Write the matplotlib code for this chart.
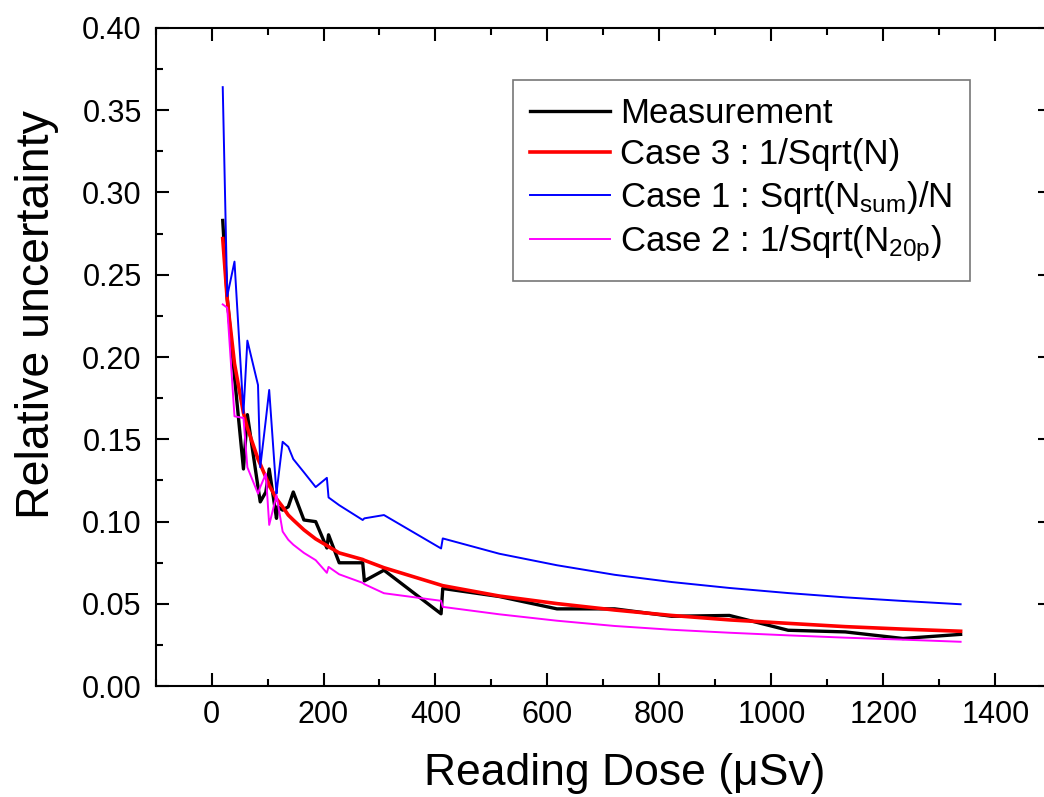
import matplotlib
matplotlib.use("Agg")
import matplotlib.pyplot as plt
from matplotlib.ticker import MultipleLocator, FormatStrFormatter

# === Dati ===
dose = [20, 28, 41, 57, 64, 83, 87, 97, 103, 116, 118, 127, 137, 146, 165, 186,
        206, 209, 228, 270, 273, 308, 410, 413, 514, 617, 720, 822, 925, 1030,
        1132, 1235, 1338]

misura = [0.283, 0.236, 0.188, 0.132, 0.165, 0.121, 0.112, 0.118, 0.132, 0.102,
          0.109, 0.107, 0.109, 0.118, 0.101, 0.100, 0.084, 0.092, 0.075, 0.075,
          0.064, 0.0705, 0.044, 0.0594, 0.0545, 0.047, 0.047, 0.0425, 0.043,
          0.034, 0.033, 0.029, 0.0315]

caso3 = [0.272, 0.235, 0.196, 0.166, 0.157, 0.138, 0.135, 0.127, 0.122, 0.114,
         0.113, 0.109, 0.104, 0.101, 0.095, 0.0895, 0.0855, 0.0848, 0.081, 0.077,
         0.0765, 0.072, 0.0614, 0.0611, 0.0548, 0.0502, 0.0463, 0.0430, 0.0403,
         0.0382, 0.0362, 0.0347, 0.0334]

caso1 = [0.364, 0.237, 0.258, 0.166, 0.210, 0.183, 0.133, 0.162, 0.180, 0.117,
         0.123, 0.1485, 0.1455, 0.138, 0.130, 0.121, 0.1266, 0.1147, 0.110, 0.101,
         0.102, 0.104, 0.0837, 0.0898, 0.0805, 0.0735, 0.0677, 0.0633, 0.0597,
         0.0566, 0.0540, 0.0518, 0.0498]

caso2 = [0.232, 0.230, 0.164, 0.163, 0.133, 0.117, 0.121, 0.129, 0.098, 0.116,
         0.112, 0.094, 0.089, 0.086, 0.081, 0.0766, 0.0689, 0.0725, 0.068, 0.0628,
         0.062, 0.0565, 0.0519, 0.0482, 0.0437, 0.0398, 0.0366, 0.0343, 0.0325,
         0.0309, 0.0295, 0.0283, 0.027]

etichette = ["Measurement",
             "Case 3 : 1/Sqrt(N)",
             r"Case 1 : Sqrt(N$_{\mathrm{sum}}$)/N",
             r"Case 2 : 1/Sqrt(N$_{\mathrm{20p}}$)"]

plt.rcParams["font.family"] = ["Liberation Sans", "DejaVu Sans"]
plt.rcParams["mathtext.fontset"] = "custom"
plt.rcParams["mathtext.rm"] = "Liberation Sans"
plt.rcParams["mathtext.it"] = "Liberation Sans:italic"
plt.rcParams["mathtext.bf"] = "Liberation Sans:bold"

fig = plt.figure(figsize=(10.44, 7.97), dpi=100)
ax = fig.add_axes([0.149, 0.139, 0.858, 0.826])

ax.plot(dose, misura, color="black", linewidth=2.4, label=etichette[0])
ax.plot(dose, caso3, color="red", linewidth=2.6, label=etichette[1])
ax.plot(dose, caso1, color="blue", linewidth=1.4, label=etichette[2])
ax.plot(dose, caso2, color="magenta", linewidth=1.4, label=etichette[3])

ax.set_xlim(-100, 1500)
ax.set_ylim(0, 0.40)
ax.xaxis.set_major_locator(MultipleLocator(200))
ax.xaxis.set_minor_locator(MultipleLocator(100))
ax.yaxis.set_major_locator(MultipleLocator(0.05))
ax.yaxis.set_minor_locator(MultipleLocator(0.025))
ax.yaxis.set_major_formatter(FormatStrFormatter("%.2f"))

ax.tick_params(which="both", direction="in", top=True, right=True, width=1.5,
               labelsize=22, pad=10)
ax.tick_params(which="major", length=9.4)
ax.tick_params(which="minor", length=5)
for sp in ax.spines.values():
    sp.set_linewidth(1.5)

ax.set_xlabel("Reading Dose (μSv)", fontsize=32)
ax.set_ylabel("Relative uncertainty", fontsize=33.5)
ax.xaxis.set_label_coords(0.524, -0.102)
ax.yaxis.set_label_coords(-0.108, 0.564)

leg = ax.legend(loc="upper left", bbox_to_anchor=(0.491, 0.8996),
                bbox_transform=fig.transFigure, fontsize=25, frameon=True,
                fancybox=False, borderaxespad=0, borderpad=0.5,
                handlelength=2.3, handletextpad=0.3, labelspacing=0.22)
leg.get_frame().set_edgecolor("#555555")
leg.get_frame().set_linewidth(1.2)

fig.savefig("out.png", dpi=100)
